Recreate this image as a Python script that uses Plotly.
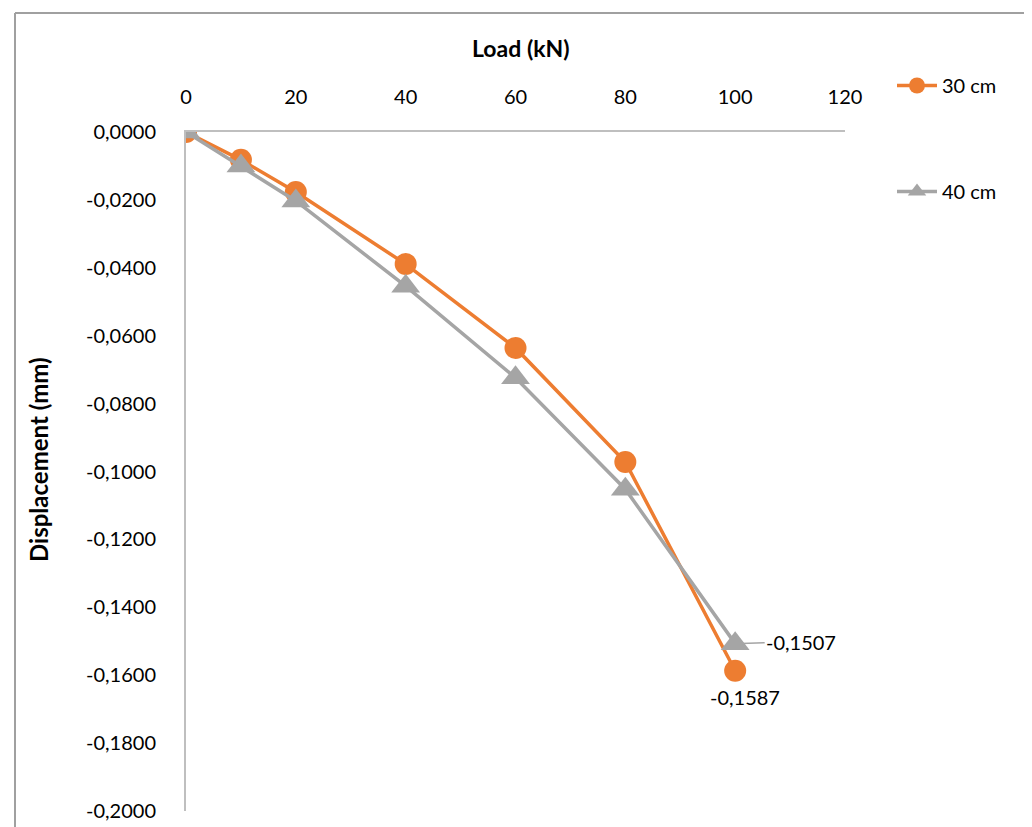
import plotly.graph_objects as go

load = [0, 10, 20, 40, 60, 80, 100]
disp_30 = [0.0, -0.0082, -0.0177, -0.0389, -0.0636, -0.0972, -0.1587]
disp_40 = [0.0, -0.0100, -0.0203, -0.0454, -0.0724, -0.1052, -0.1507]
series_names = ["30 cm", "40 cm"]
x_ticks = [0, 20, 40, 60, 80, 100, 120]
y_ticks = [0, -0.02, -0.04, -0.06, -0.08, -0.10, -0.12, -0.14, -0.16, -0.18, -0.20]

ORANGE = "#ED7D31"
GREY = "#A5A5A5"
AXIS = "#BFBFBF"
FONT = "Lato"
TXT = "#000000"

def fmt(v):
    return f"{v:.4f}".replace(".", ",").replace("\u2212", "-")

fig = go.Figure()
fig.add_trace(go.Scatter(
    x=load, y=disp_30, name=series_names[0], mode="lines+markers",
    line=dict(color=ORANGE, width=3.5),
    marker=dict(symbol="circle", size=22, color=ORANGE),
    legend="legend",
))
fig.add_trace(go.Scatter(
    x=load, y=disp_40, name=series_names[1], mode="lines+markers",
    line=dict(color=GREY, width=3.5),
    marker=dict(symbol="triangle-up", size=25, color=GREY),
    legend="legend2",
))

W, H = 1032, 827
L, R, T, B = 178, 195, 124, 24
pw, ph = W - L - R, H - T - B

def px_x(p):
    return (p - L) / pw

def px_y(p):
    return 1 + (T - p) / ph

fig.update_layout(
    width=W, height=H,
    margin=dict(l=L, r=R, t=T, b=B),
    paper_bgcolor="white", plot_bgcolor="white",
    font=dict(family=FONT, size=20, color=TXT),
    xaxis=dict(
        side="top", range=[0, 120], tickvals=x_ticks,
        ticktext=[str(v) for v in x_ticks],
        showgrid=False, zeroline=False, showline=True,
        linecolor=AXIS, linewidth=2, ticks="",
        ticklabelstandoff=18,
        tickfont=dict(family=FONT, size=20, color=TXT),
    ),
    yaxis=dict(
        range=[-0.2, 0], tickvals=y_ticks,
        ticktext=[fmt(v) if v != 0 else "0,0000" for v in y_ticks],
        showgrid=False, zeroline=False, showline=True,
        linecolor=AXIS, linewidth=2, ticks="",
        ticklabelstandoff=24,
        tickfont=dict(family=FONT, size=20, color=TXT),
    ),
    legend=dict(
        xref="container", yref="container", x=884 / W, y=1 - 58 / H,
        xanchor="left", yanchor="top", font=dict(family=FONT, size=20, color=TXT),
        bgcolor="rgba(0,0,0,0)", itemwidth=40,
    ),
    legend2=dict(
        xref="container", yref="container", x=884 / W, y=1 - 164 / H,
        xanchor="left", yanchor="top", font=dict(family=FONT, size=20, color=TXT),
        bgcolor="rgba(0,0,0,0)", itemwidth=40,
    ),
    showlegend=True,
)

# axis titles
fig.add_annotation(
    x=px_x(513), y=px_y(40), xref="paper", yref="paper", showarrow=False,
    text="<b>Load (kN)</b>", font=dict(family=FONT, size=23, color=TXT),
    xanchor="center", yanchor="middle",
)
fig.add_annotation(
    x=px_x(30), y=px_y(452), xref="paper", yref="paper", showarrow=False,
    text="<b>Displacement (mm)</b>", textangle=-90,
    font=dict(family=FONT, size=24, color=TXT),
    xanchor="center", yanchor="middle",
)

# data labels for last points
fig.add_annotation(
    x=load[-1], y=disp_40[-1], text=fmt(disp_40[-1]), showarrow=True,
    arrowhead=0, arrowwidth=1.5, arrowcolor=GREY, ax=66, ay=-2, standoff=6,
    font=dict(family=FONT, size=20, color=TXT),
)
fig.add_annotation(
    x=load[-1], y=disp_30[-1], text=fmt(disp_30[-1]), showarrow=False,
    xshift=10, yshift=-26, font=dict(family=FONT, size=20, color=TXT),
)

# chart border (left and top)
BORDER = "#A0A0A0"
fig.add_shape(type="line", xref="paper", yref="paper",
              x0=px_x(7), x1=px_x(7), y0=px_y(5), y1=px_y(840),
              line=dict(color=BORDER, width=2))
fig.add_shape(type="line", xref="paper", yref="paper",
              x0=px_x(7), x1=px_x(1040), y0=px_y(5), y1=px_y(5),
              line=dict(color=BORDER, width=2))

fig.write_html("out.html")
